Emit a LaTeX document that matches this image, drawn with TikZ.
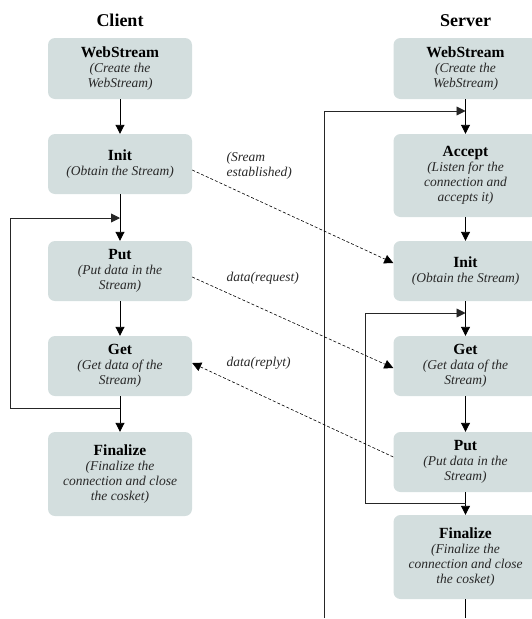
\documentclass[tikz,border=0pt]{standalone}
\usepackage{fontspec}
\setmainfont{Liberation Serif}
\usetikzlibrary{arrows.meta,calc}

\definecolor{boxfill}{RGB}{211,222,222}
\definecolor{subtext}{RGB}{40,40,40}

\tikzset{
  stepbox/.style={draw=none, fill=boxfill, rounded corners=7pt,
    minimum width=144pt, inner sep=2pt, align=center,
    font=\fontsize{13.5}{15}\selectfont\itshape\color{subtext}},
  coltitle/.style={font=\fontsize{18}{20}\selectfont\bfseries},
  flow/.style={line width=0.9pt, -{Triangle[length=9pt,width=9pt]}},
  loopline/.style={line width=0.9pt, draw=black!85, -{Triangle[length=9pt,width=9pt]}},
  plainline/.style={line width=0.9pt},
  msg/.style={line width=0.6pt, dash pattern=on 3pt off 2pt,
    -{Triangle[length=9pt,width=9pt]}},
  msglabel/.style={anchor=west, align=left,
    font=\fontsize{13.5}{15}\selectfont\itshape\color{subtext}}
}
\newcommand{\boxhead}[1]{{\upshape\bfseries\color{black}\fontsize{15.5}{15}\selectfont #1}}

\begin{document}
\begin{tikzpicture}[x=1pt,y=-1pt]
\clip (0,0) rectangle (532,619);

% column titles
\node[coltitle] (tclient) at (120,20.5) {Client};
\node[coltitle] (tserver) at (465.5,20.5) {Server};

% client side
\node[stepbox, minimum height=61pt] (cws)   at (120,68.5) {\boxhead{WebStream}\\(Create the\\WebStream)};
\node[stepbox, minimum height=60pt] (cinit) at (120,164)  {\boxhead{Init}\\(Obtain the Stream)};
\node[stepbox, minimum height=60pt] (cput)  at (120,271)  {\boxhead{Put}\\(Put data in the\\Stream)};
\node[stepbox, minimum height=60pt] (cget)  at (120,366)  {\boxhead{Get}\\(Get data of the\\Stream)};
\node[stepbox, minimum height=84pt] (cfin)  at (120,474)  {\boxhead{Finalize}\\(Finalize the\\connection and close\\the cosket)};

% server side
\node[stepbox, minimum height=61pt] (sws)   at (465.5,68.5)  {\boxhead{WebStream}\\(Create the\\WebStream)};
\node[stepbox, minimum height=83pt] (sacc)  at (465.5,175.5) {\boxhead{Accept}\\(Listen for the\\connection and\\accepts it)};
\node[stepbox, minimum height=60pt] (sinit) at (465.5,271)   {\boxhead{Init}\\(Obtain the Stream)};
\node[stepbox, minimum height=60pt] (sget)  at (465.5,366)   {\boxhead{Get}\\(Get data of the\\Stream)};
\node[stepbox, minimum height=60pt] (sput)  at (465.5,462)   {\boxhead{Put}\\(Put data in the\\Stream)};
\node[stepbox, minimum height=84pt] (sfin)  at (465.5,557)   {\boxhead{Finalize}\\(Finalize the\\connection and close\\the cosket)};

% loop junctions
\coordinate (cjoin)  at (120,218);
\coordinate (cback)  at (120,408);
\coordinate (sjoin0) at (465.5,111);
\coordinate (sjoin)  at (465.5,313);
\coordinate (sback)  at (465.5,503);
\coordinate (sbotL)  at (324,618);
\coordinate (sbotR)  at (465.5,618);

% client flow
\draw[flow] (cws) -- (cinit);
\draw[flow] (cinit) -- (cput);
\draw[flow] (cput) -- (cget);
\draw[flow] (cget) -- (cfin);
\draw[loopline] (cback) -- ++(-110,0) |- (cjoin);

% server flow
\draw[flow] (sws) -- (sacc);
\draw[flow] (sacc) -- (sinit);
\draw[flow] (sinit) -- (sget);
\draw[flow] (sget) -- (sput);
\draw[flow] (sput) -- (sfin);
\draw[plainline] (sfin) -- (sbotR);
\draw[loopline] (sbotL) |- (sjoin0);
\draw[loopline] (sback) -- ++(-100.5,0) |- (sjoin);

% messages between the two sides
\draw[msg] ([yshift=-6pt]cinit.east) -- ([yshift=8pt]sinit.west);
\draw[msg] ([yshift=-6pt]cput.east) -- ([yshift=-2pt]sget.west);
\draw[msg] ([yshift=5pt]sput.west) -- ([yshift=3pt]cget.east);

\node[msglabel] (lest) at (223,166) {(Sream\\established)};
\node[msglabel] (lreq) at (223,278) {data(request)};
\node[msglabel] (lrep) at (223,363) {data(replyt)};
\end{tikzpicture}
\end{document}
